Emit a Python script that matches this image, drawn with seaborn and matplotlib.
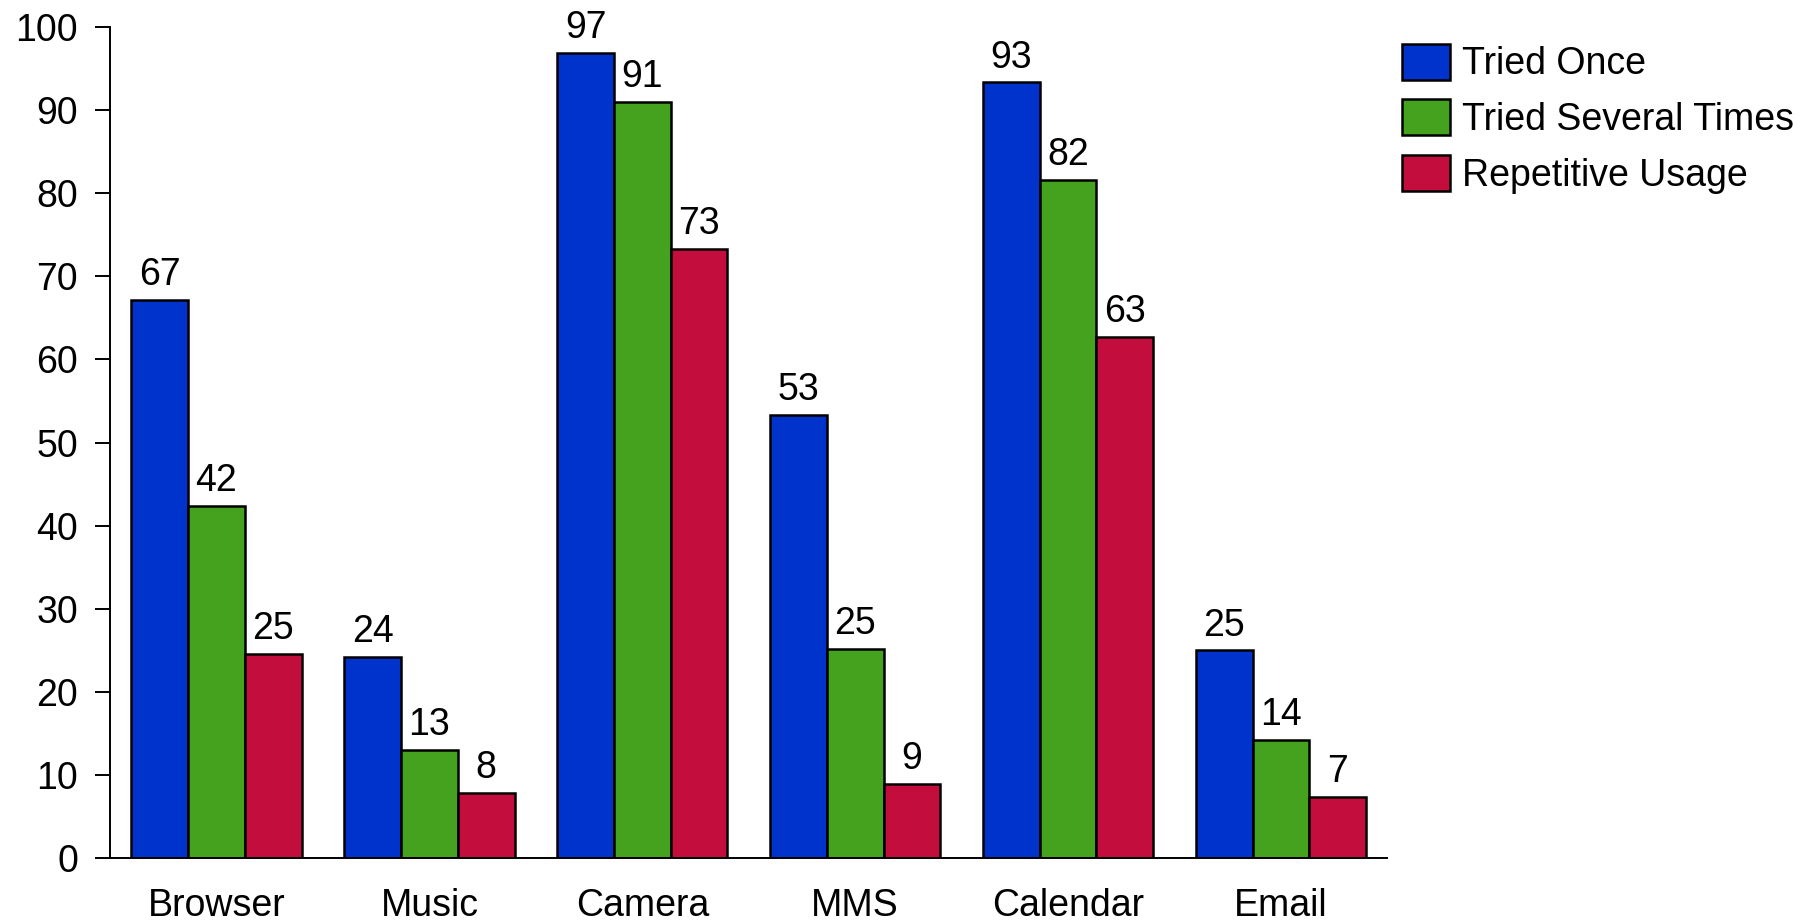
import matplotlib
matplotlib.use("Agg")
import matplotlib.pyplot as plt
import pandas as pd
import seaborn as sns

# app categories and the three usage levels
categories = ["Browser", "Music", "Camera", "MMS", "Calendar", "Email"]
series_names = ["Tried Once", "Tried Several Times", "Repetitive Usage"]
tried_once = [67.2, 24.2, 96.8, 53.3, 93.3, 25.0]
tried_several = [42.4, 13.0, 91.0, 25.2, 81.6, 14.2]
repetitive = [24.6, 7.9, 73.3, 8.9, 62.7, 7.4]
colors = ["#0033cc", "#45a21e", "#c20d3d"]

# long-form table for seaborn
rows = []
for name, vals in zip(series_names, [tried_once, tried_several, repetitive]):
    for cat, v in zip(categories, vals):
        rows.append({"app": cat, "series": name, "value": v})
df = pd.DataFrame(rows)

sns.set_style("white")
plt.rcParams["font.family"] = ["Liberation Sans", "DejaVu Sans"]
plt.rcParams["text.color"] = "black"
fs = 27

fig = plt.figure(figsize=(18.16, 9.22), dpi=100)
ax = fig.add_axes([0.0606, 0.069, 0.7034, 0.902])

sns.barplot(data=df, x="app", y="value", hue="series", order=categories,
            hue_order=series_names, palette=colors, saturation=1,
            edgecolor="black", linewidth=1.8, width=0.8, ax=ax)

# value labels above bars
for cont in ax.containers:
    ax.bar_label(cont, labels=[f"{b.get_height():.0f}" for b in cont],
                 padding=5, fontsize=fs, color="black")

ax.set_ylim(0, 100)
ax.set_xlim(-0.5, 5.5)
ax.set_yticks(range(0, 101, 10))
ax.set_xlabel("")
ax.set_ylabel("")
sns.despine(ax=ax)
for side in ["left", "bottom"]:
    ax.spines[side].set_linewidth(1.4)
    ax.spines[side].set_color("black")
ax.tick_params(axis="y", length=11, width=1.4, pad=12, labelsize=fs, left=True,
               colors="black")
ax.tick_params(axis="x", length=0, pad=21, labelsize=fs, colors="black")

handles, labels = ax.get_legend_handles_labels()
ax.get_legend().remove()
fig.legend(handles, labels, loc="upper left", bbox_to_anchor=(0.7635, 0.969),
           frameon=False, fontsize=fs, handlelength=1.3, handleheight=1.1,
           handletextpad=0.3, labelspacing=0.45, borderaxespad=0)

fig.savefig("out.png", dpi=100)
